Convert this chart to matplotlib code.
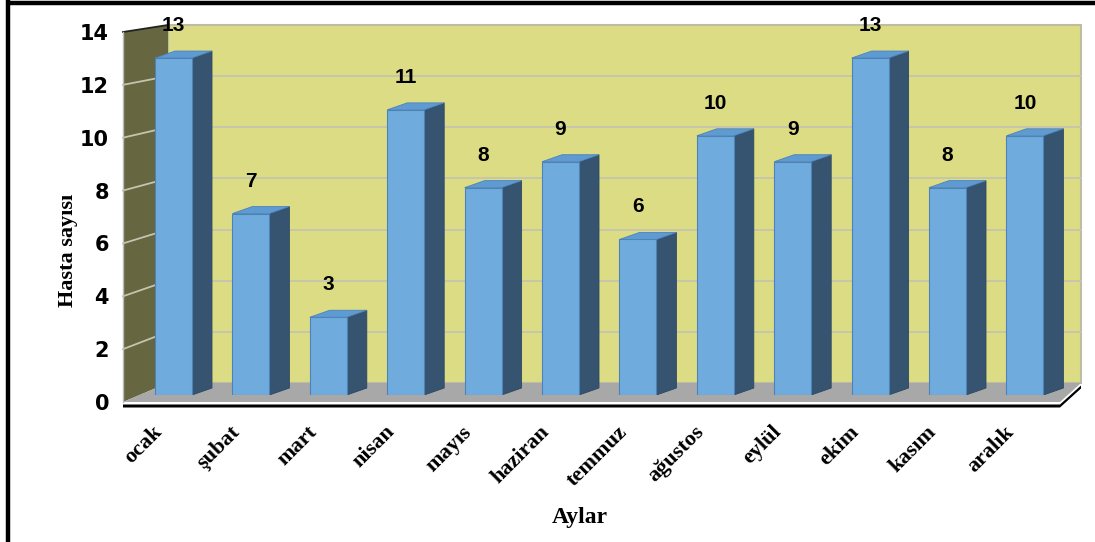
import matplotlib
matplotlib.use("Agg")
import matplotlib.pyplot as plt
from matplotlib.patches import Polygon
import numpy as np

# ---------------- data ----------------
months = ["ocak", "şubat", "mart", "nisan", "mayıs", "haziran",
          "temmuz", "ağustos", "eylül", "ekim", "kasım", "aralık"]
patients = [13, 7, 3, 11, 8, 9, 6, 10, 9, 13, 8, 10]
y_ticks = [0, 2, 4, 6, 8, 10, 12, 14]
x_title = "Aylar"
y_title = "Hasta sayısı"

# ---------------- layout (pixels) ----------------
W, H = 1095, 542
fig = plt.figure(figsize=(W / 100, H / 100), dpi=100)

def frac(left, top, right, bottom):
    return [left / W, (H - bottom) / H, (right - left) / W, (bottom - top) / H]

# background / decoration axes in pixel coordinates
ax_bg = fig.add_axes([0, 0, 1, 1], zorder=0)
ax_bg.set_xlim(0, W)
ax_bg.set_ylim(H, 0)
ax_bg.axis("off")

WALL = "#DCDC84"
SIDE = "#666640"
FLOOR = "#A8A8A8"
GRID = "#C4C4B0"

# plane geometry
fx0, fx1, f_y0, f_y14 = 123, 1060, 402, 32     # front plane (floor front edge)
bx0, bx1, b_y0, b_y14 = 168, 1081, 383, 25     # back wall plane

# back wall
ax_bg.add_patch(Polygon([(bx0, b_y0), (bx0, b_y14), (bx1, b_y14), (bx1, b_y0)],
                        closed=True, facecolor=WALL, edgecolor="#BDBDA2", lw=1.5, zorder=1))
# side wall
ax_bg.add_patch(Polygon([(fx0, f_y0), (fx0, f_y14), (bx0, b_y14), (bx0, b_y0)],
                        closed=True, facecolor=SIDE, edgecolor="none", zorder=1))
for v in y_ticks[1:-1]:
    yf = f_y0 - (f_y0 - f_y14) * v / 14
    yb = b_y0 - (b_y0 - b_y14) * v / 14
    ax_bg.plot([bx0, bx1], [yb, yb], color=GRID, lw=1.3, zorder=2)
    ax_bg.plot([fx0, bx0], [yf, yb], color=GRID, lw=1.3, zorder=2)
ax_bg.plot([fx0, bx0], [f_y14, b_y14], color="#222222", lw=1.3, zorder=2)
ax_bg.plot([fx0, fx0], [f_y14, f_y0], color="#BBBBBB", lw=1.0, zorder=2)
# floor
ax_bg.add_patch(Polygon([(fx0, f_y0), (fx1, f_y0), (bx1, b_y0), (bx0, b_y0)],
                        closed=True, facecolor=FLOOR, edgecolor="none", zorder=1))
ax_bg.add_patch(Polygon([(fx0, 404.5), (fx1, 404.5), (bx1, 385.5), (bx1, 388.5),
                         (fx1, 407.5), (fx0, 407.5)],
                        closed=True, facecolor="black", edgecolor="none", zorder=2))
# outer frame lines (top and left)
ax_bg.plot([6, W], [3, 3], color="black", lw=3.2, zorder=3, solid_capstyle="butt")
ax_bg.plot([8, 8], [0, H], color="black", lw=3.2, zorder=3, solid_capstyle="butt")

# ---------------- front-plane axis for y tick labels ----------------
ax_f = fig.add_axes(frac(fx0, f_y14, fx0 + 10, f_y0), zorder=2)
ax_f.set_ylim(0, 14)
ax_f.set_yticks(y_ticks)
ax_f.set_yticklabels([str(t) for t in y_ticks], fontsize=15, fontweight="heavy",
                     family="DejaVu Sans")
ax_f.tick_params(axis="y", length=0, pad=10)
ax_f.set_xticks([])
for s in ax_f.spines.values():
    s.set_visible(False)
ax_f.patch.set_alpha(0)

# ---------------- bar plane axes ----------------
step = 77.4
c0 = 173.5
unit = 25.92
bar_bottom = 395
n = len(months)
left_px = c0 - 0.5 * step
ax = fig.add_axes(frac(left_px, bar_bottom - 14 * unit, left_px + n * step, bar_bottom), zorder=3)
ax.set_xlim(-0.5, n - 0.5)
ax.set_ylim(0, 14)
ax.axis("off")
ax.patch.set_alpha(0)

x = np.arange(n)
bw = 37 / step
ddx = 20 / step      # depth offset in category units
ddy = 7 / unit       # depth offset in value units

FRONT = "#6FACDD"
SIDEB = "#365470"
TOP = "#5E9BD2"

ax.bar(x, patients, width=bw, color=FRONT, edgecolor="#4D82B8", lw=0.8, zorder=3)
for xi, v in zip(x, patients):
    xr = xi + bw / 2
    xl = xi - bw / 2
    ax.add_patch(Polygon([(xr, 0), (xr + ddx, ddy), (xr + ddx, v + ddy), (xr, v)],
                         closed=True, facecolor=SIDEB, edgecolor="#2E4760", lw=0.6, zorder=2))
    ax.add_patch(Polygon([(xl, v), (xl + ddx, v + ddy), (xr + ddx, v + ddy), (xr, v)],
                         closed=True, facecolor=TOP, edgecolor="#4D82B8", lw=0.6, zorder=4))
    ax.annotate(str(v), xy=(xi, v), xytext=(0, 23), textcoords="offset pixels",
                ha="center", va="bottom", fontsize=15, fontweight="bold",
                family="Liberation Sans", color="black", annotation_clip=False)
    ax.annotate(months[xi], xy=(xi, 0), xytext=(-7, -27), textcoords="offset pixels",
                ha="right", va="top", rotation=45, fontsize=16, fontweight="bold",
                family="Liberation Serif", color="black", annotation_clip=False)

# axis titles
fig.text(580 / W, 1 - 518 / H, x_title, ha="center", va="center", fontsize=17,
         fontweight="bold", family="Liberation Serif")
fig.text(68 / W, 1 - 250 / H, y_title, ha="center", va="center", rotation=90,
         fontsize=16, fontweight="bold", family="Liberation Serif")

fig.savefig("out.png", dpi=100)
